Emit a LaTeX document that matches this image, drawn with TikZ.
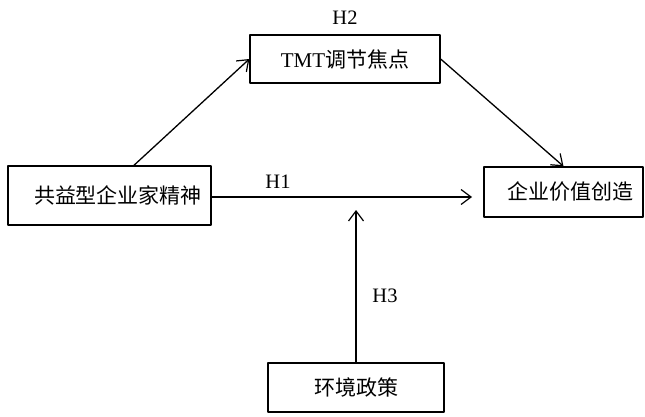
\documentclass[tikz,border=0pt]{standalone}
\usepackage{fontspec}
\setmainfont{Liberation Serif}
\newfontfamily\cjk{Noto Sans CJK SC}
\usepackage{tikz}
\usetikzlibrary{arrows.meta}

\begin{document}
\begin{tikzpicture}[line cap=round,line join=round,>={Straight Barb[length=10pt,width=15pt,line width=1.2pt]},x=1pt,y=-1pt,
  box/.style={draw,line width=1.3pt,inner sep=0pt,font=\fontsize{21}{25}\selectfont},
  hlabel/.style={font=\fontsize{20.5}{24}\selectfont}]
\useasboundingbox (0,0) rectangle (645,417);
\node[box,minimum width=203pt,minimum height=59pt,text width=185pt,align=right] (spirit) at (109.5,195.5) {\cjk 共益型企业家精神};
\node[box,minimum width=190pt,minimum height=48pt] (tmt) at (345,59) {TMT{\cjk 调节焦点}};
\node[box,minimum width=159pt,minimum height=50pt,text width=139pt,align=right] (value) at (563.5,192) {\cjk 企业价值创造};
\node[box,minimum width=176pt,minimum height=49pt] (policy) at (356,387.5) {\cjk 环境政策};
\coordinate (h1end) at (472,197);
\coordinate (h3end) at (356,210);
\draw [->,line width=1.3pt] (spirit.51) -- (tmt.west);
\draw [->,line width=1.3pt] (tmt.east) -- (value.north);
\draw [->,line width=1.3pt] (spirit.east |- h1end) -- (h1end);
\draw [->,line width=1.3pt] (policy.north) -- (h3end);
\node[hlabel] (h1) at (278,182) {H1};
\node[hlabel] (h2) at (345,18) {H2};
\node[hlabel] (h3) at (385,296) {H3};
\end{tikzpicture}
\end{document}
